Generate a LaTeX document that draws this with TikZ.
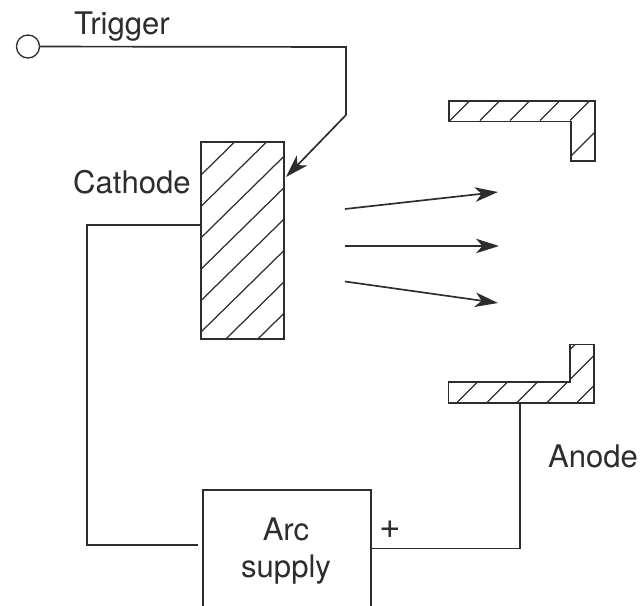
\documentclass[tikz,border=0pt]{standalone}
\usepackage{fontspec}
\setmainfont{TeX Gyre Heros}
\usetikzlibrary{arrows.meta}
\definecolor{inkColor}{RGB}{45,45,45}
\tikzset{
  wire/.style={draw=inkColor, line width=.95pt},
  part/.style={draw=inkColor, line width=1.1pt},
  hatch/.style={draw=inkColor, line width=.7pt},
  label/.style={inkColor, font=\fontsize{17.7}{21}\selectfont, inner sep=0pt},
  beamTip/.style={-{Stealth[length=.46cm, width=.29cm, inset=.13cm]}},
  beam/.style={wire, beamTip}
}

\begin{document}
\begin{tikzpicture}
  \useasboundingbox (0,0) rectangle (12.86,-12.12);
  % Trigger
  \node[circle, draw=inkColor, line width=.75pt, minimum size=.46cm, inner sep=0pt] (terminal) at (.56,-.93) {};
  \node[label] (trigger) at (2.44,-.53) {Trigger};
  % Cathode
  \node[part, minimum width=1.65cm, minimum height=3.94cm, inner sep=0pt] (cathode) at (4.85,-4.81) {};
  \node[label, anchor=east] (cathodeLabel) at (3.82,-3.64) {Cathode};
  \begin{scope}
    \clip (cathode.south west) rectangle (cathode.north east);
    \foreach \c in {0,...,8}
      \draw[hatch] (4.02,-3.5-.628*\c) -- ++(2.8,2.75);
  \end{scope}
  % Anode
  \draw[part] (8.98,-2.02) -- (11.9,-2.02) -- (11.9,-3.22) -- (11.42,-3.22)
    -- (11.42,-2.43) -- (8.98,-2.43) -- cycle;
  \begin{scope}
    \clip (8.98,-2.02) -- (11.9,-2.02) -- (11.9,-3.22) -- (11.42,-3.22)
      -- (11.42,-2.43) -- (8.98,-2.43) -- cycle;
    \foreach \c in {0,...,4}
      \draw[hatch] (9,-2.43+.02) ++(.6*\c,0) -- ++(.6,.6);
    \draw[hatch] (11.42,-3.12) -- ++(.6,.6);
  \end{scope}
  \draw[part] (8.97,-7.64) -- (11.4,-7.64) -- (11.4,-6.89) -- (11.88,-6.89)
    -- (11.88,-8.06) -- (8.97,-8.06) -- cycle;
  \begin{scope}
    \clip (8.97,-7.64) -- (11.4,-7.64) -- (11.4,-6.89) -- (11.88,-6.89)
      -- (11.88,-8.06) -- (8.97,-8.06) -- cycle;
    \foreach \c in {0,...,4}
      \draw[hatch] (9.13,-8.06) ++(.6*\c,0) -- ++(1.6,1.6);
  \end{scope}
  \coordinate (anodeTap) at (10.4,-8.06);
  \node[label] (anodeLabel) at (11.86,-9.12) {Anode};
  % Arc supply
  \node[part, minimum width=3.36cm, minimum height=2.5cm, inner sep=0pt] (supply) at (5.74,-11.05) {};
  \node[label, align=center] (supplyLabel) at (5.72,-11.03) {Arc\\supply};
  \node[label, font=\fontsize{21}{21}\selectfont] (plus) at (7.8,-10.6) {+};
  % Beam
  \coordinate (b1) at (6.9,-4.18);
  \coordinate (b2) at (9.96,-3.84);
  \coordinate (b3) at (6.9,-4.92);
  \coordinate (b4) at (9.98,-4.92);
  \coordinate (b5) at (6.9,-5.63);
  \coordinate (b6) at (9.96,-6.06);
  \draw[beam] (b1) -- (b2);
  \draw[beam] (b3) -- (b4);
  \draw[beam] (b5) -- (b6);
  % Wires
  \coordinate (bend) at (6.92,-2.3);
  \coordinate (tip) at (5.72,-3.54);
  \coordinate (supplyIn) at (3.96,-10.9);
  \draw[wire] (terminal) -- (6.92,-.94) -- (bend);
  \draw[beam] (bend) -- (tip);
  \draw[wire] (cathode.west |- 0,-4.5) -- (1.74,-4.5) -- (1.74,-10.9) -- (supplyIn);
  \draw[wire] (supply.east |- 0,-10.97) -- (10.4,-10.97) -- (anodeTap);
\end{tikzpicture}
\end{document}
